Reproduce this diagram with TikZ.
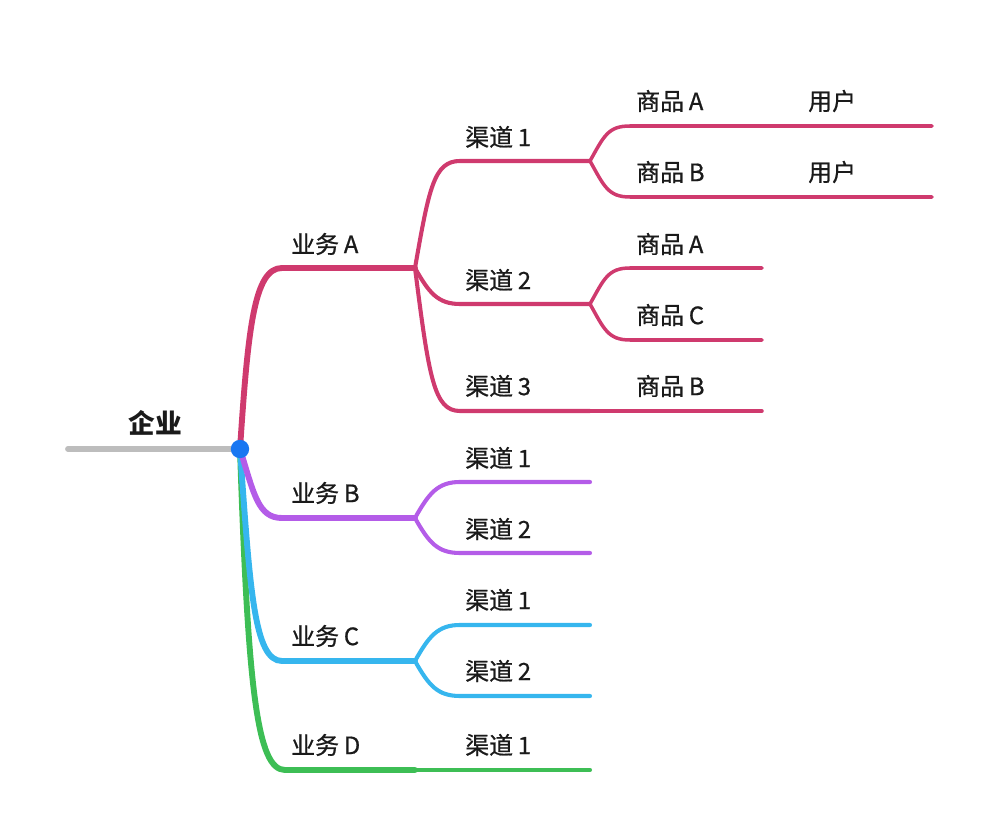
\documentclass[tikz,border=0pt]{standalone}
\usepackage{fontspec}
\setmainfont{Noto Sans CJK SC}
\newfontfamily\medfont{Noto Sans CJK SC}[FakeBold=0.8]
\usepackage{tikz}
\usetikzlibrary{positioning,calc}
\definecolor{rootgray}{HTML}{BDBDBD}
\definecolor{hubblue}{HTML}{1877F2}
\definecolor{bizA}{HTML}{CF3A6E}
\definecolor{bizB}{HTML}{B45CE8}
\definecolor{bizC}{HTML}{36B6EE}
\definecolor{bizD}{HTML}{3DBE55}
\definecolor{ink}{HTML}{1A1A1A}
\tikzset{
  lvl1/.style={line width=4.2pt, line cap=round},
  lvl2/.style={line width=2.9pt, line cap=round},
  lvl3/.style={line width=2.5pt, line cap=round},
  lbl/.style={anchor=west, inner sep=0pt, text=ink, font=\medfont\fontsize{17}{19}\selectfont},
  rootlbl/.style={inner sep=0pt, text=ink, font=\fontsize{19}{22}\selectfont\bfseries},
  hubdot/.style={circle, fill=hubblue, minimum size=4.6mm, inner sep=0pt}
}
\newcommand{\nm}[2]{#1\hspace{0.2em}#2}

\begin{document}
\begin{tikzpicture}[x=0.25mm, y=-0.25mm]
  \useasboundingbox (0,0) rectangle (1000,839);
  % points of the tree
  \coordinate (r0) at (68,449);
  \coordinate (hub) at (240,449);
  \coordinate (bA) at (282,268);  \coordinate (fA) at (415,268);
  \coordinate (bB) at (282,518);  \coordinate (fB) at (415,518);
  \coordinate (bC) at (282,661);  \coordinate (fC) at (415,661);
  \coordinate (bD) at (285,770);  \coordinate (fD) at (415,770);
  \coordinate (cA1) at (460,161); \coordinate (eA1) at (590,161);
  \coordinate (cA2) at (460,304); \coordinate (eA2) at (590,304);
  \coordinate (cA3) at (460,411); \coordinate (eA3) at (590,411);
  \coordinate (cB1) at (460,482); \coordinate (eB1) at (590,482);
  \coordinate (cB2) at (460,553); \coordinate (eB2) at (590,553);
  \coordinate (cC1) at (460,625); \coordinate (eC1) at (590,625);
  \coordinate (cC2) at (460,696); \coordinate (eC2) at (590,696);
  \coordinate (eD1) at (590,770);
  \coordinate (g11) at (630,126); \coordinate (e11) at (932,126);
  \coordinate (g12) at (630,197); \coordinate (e12) at (932,197);
  \coordinate (g21) at (630,268); \coordinate (e21) at (762,268);
  \coordinate (g22) at (630,340); \coordinate (e22) at (762,340);
  \coordinate (e31) at (762,411);

  % root
  \draw[lvl1, rootgray] (r0) -- (hub);
  \node[rootlbl] (root) at (155,423) {企业};

  % business lines
  \draw[lvl1, bizD] (hub) .. controls +(8,240) and +(-28,0) .. (bD) -- (fD);
  \draw[lvl1, bizC] (hub) .. controls +(10,140) and +(-28,0) .. (bC) -- (fC);
  \draw[lvl1, bizB] (hub) .. controls +(14,45) and +(-24,0) .. (bB) -- (fB);
  \draw[lvl1, bizA] (hub) .. controls +(8,-120) and +(-28,0) .. (bA) -- (fA);

  % channels
  \draw[lvl2, bizA] (fA) .. controls +(14,-80) and +(-26,0) .. (cA1) -- (eA1);
  \draw[lvl2, bizA] (fA) .. controls +(14,25) and +(-22,0) .. (cA2) -- (eA2);
  \draw[lvl2, bizA] (fA) .. controls +(14,110) and +(-26,0) .. (cA3) -- (eA3);
  \draw[lvl2, bizB] (fB) .. controls +(14,-25) and +(-22,0) .. (cB1) -- (eB1);
  \draw[lvl2, bizB] (fB) .. controls +(14,25) and +(-22,0) .. (cB2) -- (eB2);
  \draw[lvl2, bizC] (fC) .. controls +(14,-25) and +(-22,0) .. (cC1) -- (eC1);
  \draw[lvl2, bizC] (fC) .. controls +(14,25) and +(-22,0) .. (cC2) -- (eC2);
  \draw[lvl2, bizD] (fD) -- (eD1);

  % goods and users
  \draw[lvl3, bizA] (eA1) .. controls +(14,-25) and +(-22,0) .. (g11) -- (e11);
  \draw[lvl3, bizA] (eA1) .. controls +(14,25) and +(-22,0) .. (g12) -- (e12);
  \draw[lvl3, bizA] (eA2) .. controls +(14,-25) and +(-22,0) .. (g21) -- (e21);
  \draw[lvl3, bizA] (eA2) .. controls +(14,25) and +(-22,0) .. (g22) -- (e22);
  \draw[lvl3, bizA] (eA3) -- (e31);

  \node[hubdot] (dot) at (hub) {};

  % labels
  \node[lbl] (tA) at (291,244) {\nm{业务}{A}};
  \node[lbl] (tB) at (291,493) {\nm{业务}{B}};
  \node[lbl] (tC) at (291,636) {\nm{业务}{C}};
  \node[lbl] (tD) at (291,745) {\nm{业务}{D}};
  \node[lbl] (tA1) at (465,137) {\nm{渠道}{1}};
  \node[lbl] (tA2) at (465,280) {\nm{渠道}{2}};
  \node[lbl] (tA3) at (465,386) {\nm{渠道}{3}};
  \node[lbl] (tB1) at (465,458) {\nm{渠道}{1}};
  \node[lbl] (tB2) at (465,529) {\nm{渠道}{2}};
  \node[lbl] (tC1) at (465,600) {\nm{渠道}{1}};
  \node[lbl] (tC2) at (465,671) {\nm{渠道}{2}};
  \node[lbl] (tD1) at (465,745) {\nm{渠道}{1}};
  \node[lbl] (t11) at (636,101) {\nm{商品}{A}};
  \node[lbl] (u11) at (808,101) {用户};
  \node[lbl] (t12) at (636,172) {\nm{商品}{B}};
  \node[lbl] (u12) at (808,172) {用户};
  \node[lbl] (t21) at (636,244) {\nm{商品}{A}};
  \node[lbl] (t22) at (636,315) {\nm{商品}{C}};
  \node[lbl] (t31) at (636,386) {\nm{商品}{B}};
\end{tikzpicture}
\end{document}
